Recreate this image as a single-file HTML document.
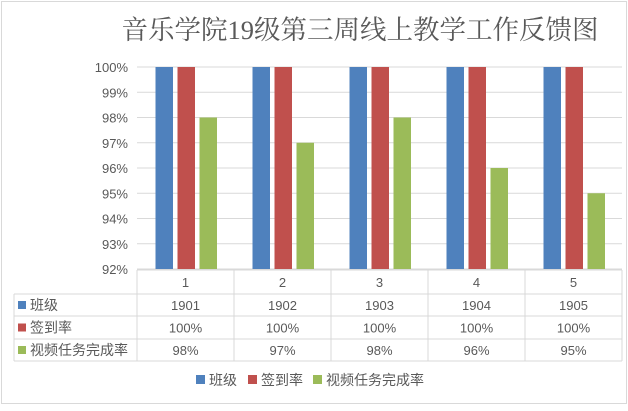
<!DOCTYPE html>
<html><head><meta charset="utf-8"><style>
body{margin:0;background:#fff}
svg text{font-family:"Liberation Sans","Noto Sans CJK SC",sans-serif;fill:#595959}
</style></head><body>
<svg width="628" height="406">
<rect x="1.5" y="1.5" width="625" height="402" fill="#fff" stroke="#d9d9d9"/>
<text x="360" y="39" font-size="26.5" text-anchor="middle" style="font-family:'Liberation Serif','Noto Serif CJK SC',serif" fill="#404040">音乐学院19级第三周线上教学工作反馈图</text>
<g id="grid"></g><g id="bars"></g><g id="table"></g><g id="legend"></g>
</svg>
<script>
const classes=['1901','1902','1903','1904','1905'];
const cats=['1','2','3','4','5'];
const signin=[100,100,100,100,100];
const video=[98,97,98,96,95];
const ticks=[92,93,94,95,96,97,98,99,100];
const NS='http://www.w3.org/2000/svg';
const x0=137,x1=622,yTop=67,yBot=269,vmin=92,vmax=100;
const y=v=>yBot-(v-vmin)/(vmax-vmin)*(yBot-yTop);
const cw=(x1-x0)/cats.length;
function mk(t,a,p,txt){const e=document.createElementNS(NS,t);for(const k in a)e.setAttribute(k,a[k]);if(txt!==undefined)e.textContent=txt;p.appendChild(e);return e;}
const grid=document.getElementById('grid');
ticks.forEach(t=>{
 const l=mk('line',{x1:x0,x2:x1,y1:y(t),y2:y(t),stroke:'#d9d9d9'},grid);
 
 
 const tx=mk('text',{x:128,y:y(t)+5,'font-size':13,'text-anchor':'end'},grid,t+'%');
 
 
});
const bars=document.getElementById('bars');
const series=[[classes.map(()=>100),'#4f81bd'],[signin,'#c0504d'],[video,'#9bbb59']];
series.forEach(([vals,c],si)=>{
 vals.forEach((v,i)=>{
  const bx=x0+i*cw+18.5+si*22;
  const r=mk('rect',{x:bx,y:y(Math.min(v,vmax)),width:17.5,height:yBot-y(Math.min(v,vmax)),fill:c},bars);
  
  
 });
});
const tb=document.getElementById('table');
const rows=[270,294,316,339,361];
mk('line',{x1:x0,x2:x1,y1:270,y2:270,stroke:'#d9d9d9'},tb);
[294,316,339,361].forEach(r=>mk('line',{x1:14,x2:x1,y1:r,y2:r,stroke:'#d9d9d9'},tb));
mk('line',{x1:14,x2:14,y1:294,y2:361,stroke:'#d9d9d9'},tb);
for(let i=0;i<=cats.length;i++)mk('line',{x1:x0+i*cw,x2:x0+i*cw,y1:270,y2:361,stroke:'#d9d9d9'},tb);
const names=['班级','签到率','视频任务完成率'],cols=['#4f81bd','#c0504d','#9bbb59'];
const data=[classes,signin.map(v=>v+'%'),video.map(v=>v+'%')];
cats.forEach((c,i)=>{const t=mk('text',{x:x0+(i+.5)*cw,y:287,'font-size':13,'text-anchor':'middle'},tb,c);
 
 });
names.forEach((n,r)=>{
 const cy=(rows[r+1]+rows[r+2])/2;
 mk('rect',{x:18,y:cy-4,width:8,height:8,fill:cols[r]},tb);
 const t=mk('text',{x:30,y:cy+5,'font-size':14},tb,n);
 
 
 data[r].forEach((v,i)=>{const d=mk('text',{x:x0+(i+.5)*cw,y:cy+5,'font-size':13,'text-anchor':'middle'},tb,v);
  
  });
});
const lg=document.getElementById('legend');
const lx=[196,248,313];
names.forEach((n,i)=>{
 mk('rect',{x:lx[i],y:375,width:9,height:9,fill:cols[i]},lg);
 const t=mk('text',{x:lx[i]+13,y:385,'font-size':14},lg,n);
 
 
});
</script>
</body></html>
